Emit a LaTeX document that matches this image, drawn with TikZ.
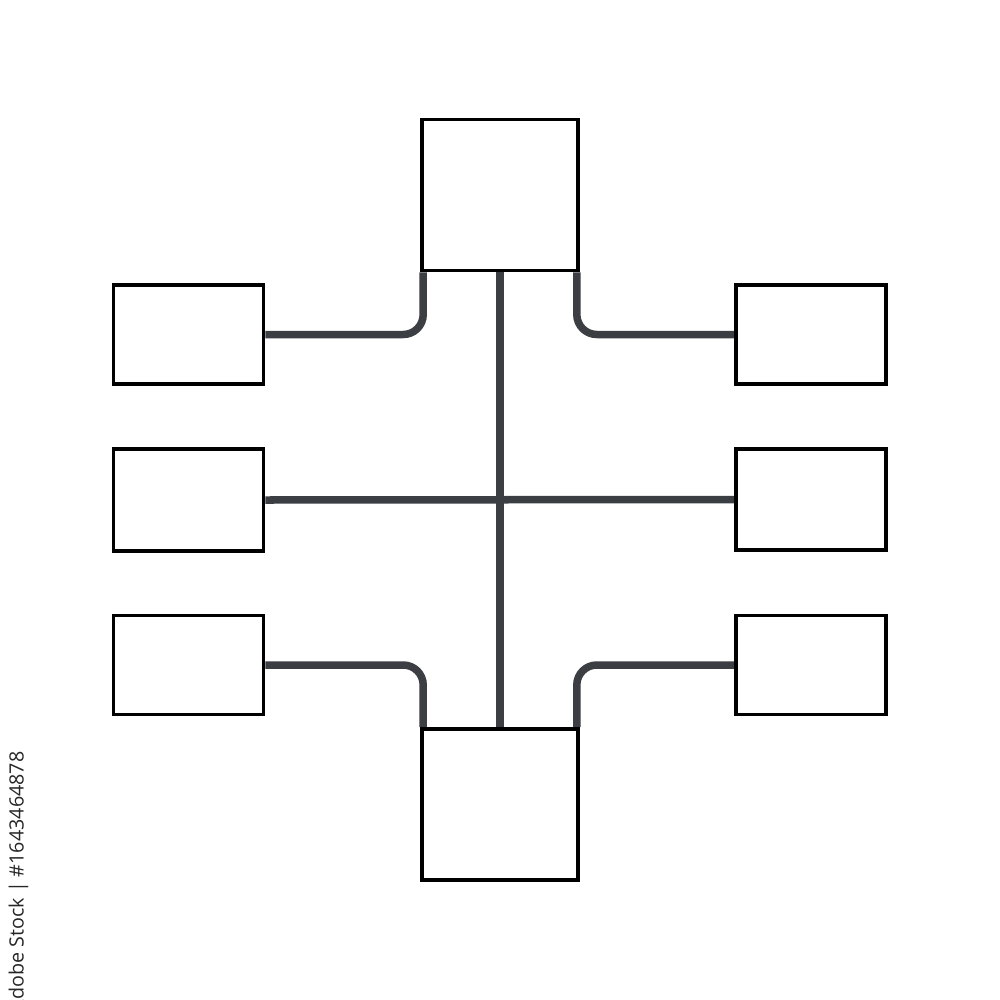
\documentclass[tikz,border=0pt]{standalone}
\usepackage{fontspec}
\newfontfamily\stockfont{Open Sans}
\usetikzlibrary{backgrounds}
\definecolor{linkgray}{HTML}{3B3E42}
\begin{document}
\begin{tikzpicture}[x=0.01cm, y=-0.01cm,
    box/.style={draw=black, line width=0.035cm, fill=white, inner sep=0pt},
    bigbox/.style={box, minimum width=1.56cm, minimum height=1.51cm},
    smallbox/.style={box, minimum width=1.50cm, minimum height=0.99cm},
    link/.style={draw=linkgray, line width=0.075cm, rounded corners=0.2cm}]
    \useasboundingbox (0,0) rectangle (1000,1000);
    % boxes
    \node[bigbox] (top) at (500,195) {};
    \node[bigbox] (bot) at (500,804.5) {};
    \node[smallbox] (l1) at (188.5,334.5) {};
    \node[smallbox, minimum height=1.02cm] (l2) at (188.5,500) {};
    \node[smallbox] (l3) at (188.5,665) {};
    \node[smallbox] (r1) at (811,334.5) {};
    \node[smallbox, minimum height=1.01cm] (r2) at (811,499.5) {};
    \node[smallbox] (r3) at (811,665) {};
    % links
    \begin{pgfonlayer}{background}
    \draw[link] (top.south) -- (bot.north);
    \draw[link] (l2.east) -- (r2.west);
    \draw[link] ([xshift=0.03cm]top.south west) |- (l1.east);
    \draw[link] ([xshift=-0.03cm]top.south east) |- (r1.west);
    \draw[link] ([xshift=0.03cm]bot.north west) |- (l3.east);
    \draw[link] ([xshift=-0.03cm]bot.north east) |- (r3.west);
    \end{pgfonlayer}
    \node[rotate=90, anchor=south east, inner sep=0pt, font=\stockfont\fontsize{5.6pt}{6pt}\selectfont, text=black!85]
        (mark) at (29,751) {Adobe Stock | \#1643464878};
\end{tikzpicture}
\end{document}
